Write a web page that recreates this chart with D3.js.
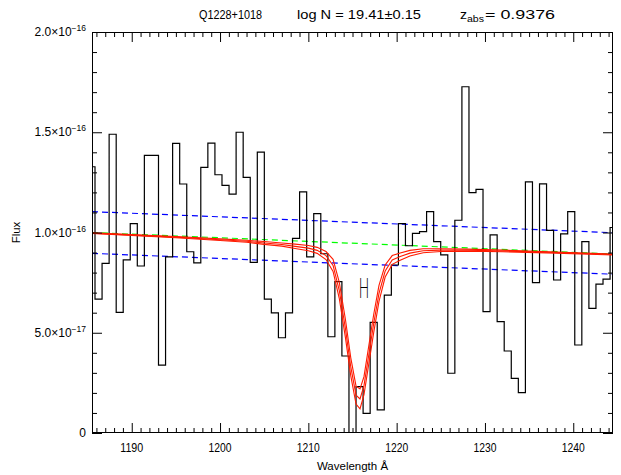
<!DOCTYPE html>
<html><head><meta charset="utf-8">
<script src="https://cdn.jsdelivr.net/npm/d3@7/dist/d3.min.js"></script>
<style>body{margin:0;background:#fff}svg{display:block}</style>
</head><body>
<svg id="c" width="621" height="475"></svg>
<script>
// ---- data (flux in units of 1e-17) ----
const binWave = [1185.44,1186.24,1187.04,1187.84,1188.64,1189.43,1190.23,1191.03,1191.83,1192.63,
 1193.43,1194.23,1195.03,1195.83,1196.63,1197.42,1198.22,1199.02,1199.82,1200.62,
 1201.42,1202.22,1203.02,1203.82,1204.62,1205.41,1206.21,1207.01,1207.81,1208.61,
 1209.41,1210.21,1211.01,1211.81,1212.61,1213.40,1214.20,1215.00,1215.80,1216.60,
 1217.40,1218.20,1219.00,1219.80,1220.60,1221.39,1222.19,1222.99,1223.79,1224.59,
 1225.39,1226.19,1226.99,1227.79,1228.59,1229.38,1230.18,1230.98,1231.78,1232.58,
 1233.38,1234.18,1234.98,1235.78,1236.58,1237.37,1238.17,1238.97,1239.77,1240.57,
 1241.37,1242.17,1242.97,1243.77,1244.57];
const binFlux = [13.28,6.68,8.46,14.90,6.02,8.63,10.44,8.33,13.85,13.85,
 3.39,8.78,14.45,12.42,9.04,8.49,13.25,14.46,12.88,12.35,
 11.91,15.00,12.75,8.51,14.01,6.68,5.99,4.75,5.99,9.71,
 12.03,8.78,10.94,8.94,4.80,7.55,3.84,-0.5,2.31,0.98,
 5.52,1.15,6.88,8.38,10.44,9.34,9.96,10.04,11.04,9.54,
 8.88,2.98,10.61,17.27,11.99,12.15,6.05,9.88,5.55,4.09,
 2.72,2.01,12.52,7.50,12.43,10.11,7.63,9.93,11.04,4.39,
 9.54,6.22,7.43,7.67,10.25];

const contWave = [1185.5, 1244.5];
const contFlux = [10.0, 8.93];
const blueUpper = [11.04, 9.99];
const blueLower = [8.96, 7.92];

const modelWave = [1185.5,1195,1200,1203,1205,1207,1208.5,1210,1211,1212,1212.8,1213.5,1214.2,1214.8,1215.4,
 1215.85,1216.3,1216.8,1217.4,1218,1218.7,1219.5,1220.4,1221.5,1223,1225,1228,1232,1238,1244.5];
const modelMid = [9.97,9.77,9.64,9.56,9.48,9.40,9.31,9.22,9.11,8.85,8.36,7.12,5.21,3.31,1.89,
 1.70,2.36,3.77,5.46,6.96,8.08,8.63,8.80,8.97,9.09,9.12,9.12,9.08,9.00,8.90];
const modelHigh = [9.99,9.80,9.68,9.61,9.55,9.48,9.42,9.35,9.26,9.05,8.66,7.52,5.66,3.76,2.34,
 2.20,2.81,4.22,5.91,7.36,8.38,8.85,8.98,9.11,9.19,9.19,9.17,9.12,9.03,8.92];
const modelLow = [9.95,9.74,9.60,9.51,9.41,9.32,9.20,9.09,8.96,8.65,8.06,6.72,4.76,2.86,1.44,
 1.20,1.91,3.32,5.01,6.56,7.78,8.41,8.62,8.83,8.99,9.05,9.07,9.04,8.97,8.88];

const labelWave = [1215.67];
const labelFlux = [6.73];

const xMajor = [1190,1200,1210,1220,1230,1240];
const yMajor = [0,5,10,15,20];
const yLabelMain = ["0","5.0\u00d710","1.0\u00d710","1.5\u00d710","2.0\u00d710"];
const yLabelExp = ["","\u221217","\u221216","\u221216","\u221216"];

// ---- layout ----
const L=92, R=613, T=32, B=433;
const svg = d3.select("#c");
const x = d3.scaleLinear().domain([1185.5,1244.5]).range([L,R]);
const y = d3.scaleLinear().domain([0,20]).range([B,T]);
const FONT = "'Liberation Sans', Arial, sans-serif";

svg.append("defs").append("clipPath").attr("id","clip")
  .append("rect").attr("x",L).attr("y",T).attr("width",R-L).attr("height",B-T);

const plot = svg.append("g").attr("clip-path","url(#clip)");

[blueUpper, blueLower].forEach(v=>{
  plot.append("path").datum(contWave.map((w,i)=>[w,v[i]]))
    .attr("d", d3.line().x(d=>x(d[0])).y(d=>y(d[1])))
    .attr("fill","none").attr("stroke","#0000ff").attr("stroke-width",1.2)
    .attr("stroke-dasharray","6,4");
});
plot.append("path").datum(contWave.map((w,i)=>[w,contFlux[i]]))
  .attr("d", d3.line().x(d=>x(d[0])).y(d=>y(d[1])))
  .attr("fill","none").attr("stroke","#00ff00").attr("stroke-width",1.2)
  .attr("stroke-dasharray","6,4");

plot.append("path").datum(binWave.map((w,i)=>[w,binFlux[i]]))
  .attr("d", d3.line().x(d=>x(d[0])).y(d=>y(d[1])).curve(d3.curveStep))
  .attr("fill","none").attr("stroke","#000").attr("stroke-width",1.2);

[modelHigh, modelMid, modelLow].forEach(v=>{
  plot.append("path").datum(modelWave.map((w,i)=>[w,v[i]]))
    .attr("d", d3.line().x(d=>x(d[0])).y(d=>y(d[1])))
    .attr("fill","none").attr("stroke","#ff1a00").attr("stroke-width",1.1);
});

svg.selectAll("text.hl").data(labelWave).enter().append("text").attr("class","hl")
  .attr("x",(d)=>x(d)).attr("y",(d,i)=>y(labelFlux[i]))
  .attr("fill","#000")
  .attr("font-family","'DejaVu Sans', sans-serif").attr("font-size",27).attr("font-weight",200)
  .attr("textLength",11).attr("lengthAdjust","spacingAndGlyphs")
  .text("H");

svg.append("rect").attr("x",L+0.5).attr("y",T+0.5).attr("width",R-L-1).attr("height",B-T-1)
  .attr("fill","none").attr("stroke","#000").attr("stroke-width",1);

const xMinor = d3.range(1186,1245,1).filter(v=>v%10!==0);
const yMinor = d3.range(1,20,1).filter(v=>v%5!==0);
function tickAxis(axisFn, scale, vals, size, tr){
  const g = svg.append("g").attr("transform",tr)
    .call(axisFn(scale).tickValues(vals).tickSize(size).tickFormat(""));
  g.select(".domain").remove();
  g.selectAll("line").attr("stroke","#000");
}
tickAxis(d3.axisBottom, x, xMajor, -10, `translate(0,${B})`);
tickAxis(d3.axisBottom, x, xMinor, -5, `translate(0,${B})`);
tickAxis(d3.axisTop, x, xMajor, -10, `translate(0,${T})`);
tickAxis(d3.axisTop, x, xMinor, -5, `translate(0,${T})`);
tickAxis(d3.axisLeft, y, yMajor, -10, `translate(${L},0)`);
tickAxis(d3.axisLeft, y, yMinor, -5, `translate(${L},0)`);
tickAxis(d3.axisRight, y, yMajor, -10, `translate(${R},0)`);
tickAxis(d3.axisRight, y, yMinor, -5, `translate(${R},0)`);

svg.append("g").selectAll("text").data(xMajor).enter().append("text")
  .attr("x",d=>x(d)).attr("y",B+19).attr("text-anchor","middle")
  .attr("font-family",FONT).attr("font-size",12.5)
  .attr("textLength",23).attr("lengthAdjust","spacingAndGlyphs")
  .text(d=>d);

yMajor.forEach((v,i)=>{
  const t = svg.append("text").attr("x",86).attr("y",y(v)+4)
    .attr("text-anchor","end").attr("font-family",FONT).attr("font-size",12);
  t.append("tspan").text(yLabelMain[i]);
  if (yLabelExp[i]) t.append("tspan").attr("dy",-5).attr("font-size",8.5).text(yLabelExp[i]);
});

svg.append("text").attr("x",(L+R)/2).attr("y",470).attr("text-anchor","middle")
  .attr("font-family",FONT).attr("font-size",11.5).text("Wavelength \u00c5");
svg.append("text").attr("transform",`translate(20,${(T+B)/2}) rotate(-90)`)
  .attr("text-anchor","middle").attr("font-family",FONT).attr("font-size",11.5).text("Flux");

function ttext(xp, s, len){
  return svg.append("text").attr("x",xp).attr("y",19).attr("font-family",FONT).attr("font-size",13.5)
    .attr("textLength",len).attr("lengthAdjust","spacingAndGlyphs").text(s);
}
ttext(199,"Q1228+1018",63);
ttext(297,"log N = 19.41\u00b10.15",124);
ttext(460,"z",7);
svg.append("text").attr("x",467).attr("y",22).attr("font-family",FONT).attr("font-size",9.5)
  .attr("textLength",17).attr("lengthAdjust","spacingAndGlyphs").text("abs");
ttext(485,"= 0.9376",70);
</script>
</body></html>
